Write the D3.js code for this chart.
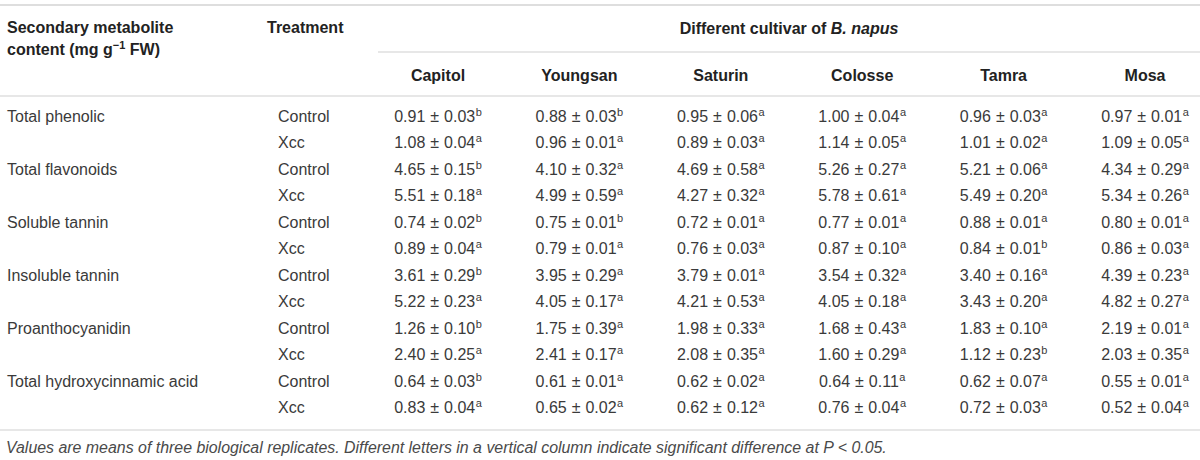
<!DOCTYPE html>
<html>
  <head>
    <meta charset="utf-8" />
    <title>Secondary metabolite content of B. napus cultivars</title>
    <script src="https://d3js.org/d3.v7.min.js"></script>
    <style>
      body { margin: 0; background: #fff; }
      text { font-family: "Liberation Sans", Arial, sans-serif; }
    </style>
  </head>
  <body>
    <svg width="1200" height="460"></svg>
    <script>
      var cultivars = ["Capitol", "Youngsan", "Saturin", "Colosse", "Tamra", "Mosa"];
      var metabolites = [
        "Total phenolic",
        "Total flavonoids",
        "Soluble tannin",
        "Insoluble tannin",
        "Proanthocyanidin",
        "Total hydroxycinnamic acid",
      ];
      var treatments = ["Control", "Xcc"];

      // one row per metabolite x treatment, one column per cultivar
      var means = [
        [0.91, 0.88, 0.95, 1.0, 0.96, 0.97],
        [1.08, 0.96, 0.89, 1.14, 1.01, 1.09],
        [4.65, 4.1, 4.69, 5.26, 5.21, 4.34],
        [5.51, 4.99, 4.27, 5.78, 5.49, 5.34],
        [0.74, 0.75, 0.72, 0.77, 0.88, 0.8],
        [0.89, 0.79, 0.76, 0.87, 0.84, 0.86],
        [3.61, 3.95, 3.79, 3.54, 3.4, 4.39],
        [5.22, 4.05, 4.21, 4.05, 3.43, 4.82],
        [1.26, 1.75, 1.98, 1.68, 1.83, 2.19],
        [2.4, 2.41, 2.08, 1.6, 1.12, 2.03],
        [0.64, 0.61, 0.62, 0.64, 0.62, 0.55],
        [0.83, 0.65, 0.62, 0.76, 0.72, 0.52],
      ];
      var sds = [
        [0.03, 0.03, 0.06, 0.04, 0.03, 0.01],
        [0.04, 0.01, 0.03, 0.05, 0.02, 0.05],
        [0.15, 0.32, 0.58, 0.27, 0.06, 0.29],
        [0.18, 0.59, 0.32, 0.61, 0.2, 0.26],
        [0.02, 0.01, 0.01, 0.01, 0.01, 0.01],
        [0.04, 0.01, 0.03, 0.1, 0.01, 0.03],
        [0.29, 0.29, 0.01, 0.32, 0.16, 0.23],
        [0.23, 0.17, 0.53, 0.18, 0.2, 0.27],
        [0.1, 0.39, 0.33, 0.43, 0.1, 0.01],
        [0.25, 0.17, 0.35, 0.29, 0.23, 0.35],
        [0.03, 0.01, 0.02, 0.11, 0.07, 0.01],
        [0.04, 0.02, 0.12, 0.04, 0.03, 0.04],
      ];
      var letters = [
        ["b", "b", "a", "a", "a", "a"],
        ["a", "a", "a", "a", "a", "a"],
        ["b", "a", "a", "a", "a", "a"],
        ["a", "a", "a", "a", "a", "a"],
        ["b", "b", "a", "a", "a", "a"],
        ["a", "a", "a", "a", "b", "a"],
        ["b", "a", "a", "a", "a", "a"],
        ["a", "a", "a", "a", "a", "a"],
        ["b", "a", "a", "a", "a", "a"],
        ["a", "a", "a", "a", "b", "a"],
        ["b", "a", "a", "a", "a", "a"],
        ["a", "a", "a", "a", "a", "a"],
      ];
      var note =
        "Values are means of three biological replicates. Different letters in a vertical column indicate significant difference at P < 0.05.";

      var svg = d3.select("svg"),
        width = +svg.attr("width");

      var fmt = d3.format(".2f");
      var textColor = "#3a3a3a",
        headColor = "#222",
        ruleColor = "#cfcfcf";

      var rows = [];
      metabolites.forEach(function (m, i) {
        treatments.forEach(function (t, j) {
          rows.push({ metabolite: j === 0 ? m : "", treatment: t, index: i * 2 + j });
        });
      });

      var x = d3.scalePoint().domain(cultivars).range([438, 1145]);
      var y = d3
        .scalePoint()
        .domain(d3.range(rows.length))
        .range([116, 407.5]);

      // rules
      svg.append("line").attr("x1", 0).attr("x2", width).attr("y1", 5).attr("y2", 5)
        .attr("stroke", "#dedede").attr("stroke-width", 2);
      svg.append("line").attr("x1", 378).attr("x2", width).attr("y1", 52).attr("y2", 52)
        .attr("stroke", ruleColor).attr("stroke-width", 1.2);
      svg.append("line").attr("x1", 0).attr("x2", width).attr("y1", 96).attr("y2", 96)
        .attr("stroke", ruleColor).attr("stroke-width", 1.2);
      svg.append("line").attr("x1", 0).attr("x2", width).attr("y1", 430).attr("y2", 430)
        .attr("stroke", ruleColor).attr("stroke-width", 1.2);

      // header
      var head = svg.append("g")
        .attr("font-size", 16)
        .attr("font-weight", "bold")
        .attr("fill", headColor);

      head.append("text").attr("x", 7).attr("y", 27).attr("dy", "0.35em")
        .text("Secondary metabolite");
      var unit = head.append("text").attr("x", 7).attr("y", 49).attr("dy", "0.35em");
      unit.append("tspan").text("content (mg g");
      unit.append("tspan").attr("font-size", 11).attr("dy", -6).text("\u22121");
      unit.append("tspan").attr("dy", 6).text(" FW)");

      head.append("text").attr("x", 267).attr("y", 27).attr("dy", "0.35em")
        .text("Treatment");

      var group = head.append("text").attr("x", 789).attr("y", 28).attr("dy", "0.35em")
        .attr("text-anchor", "middle");
      group.append("tspan").text("Different cultivar of ");
      group.append("tspan").attr("font-style", "italic").text("B. napus");

      head.selectAll(".cultivar")
        .data(cultivars)
        .enter()
        .append("text")
        .attr("class", "cultivar")
        .attr("x", function (d) { return x(d); })
        .attr("y", 75)
        .attr("dy", "0.35em")
        .attr("text-anchor", "middle")
        .text(function (d) { return d; });

      // body
      var body = svg.append("g").attr("font-size", 16).attr("fill", textColor);

      var row = body.selectAll(".row")
        .data(rows)
        .enter()
        .append("g")
        .attr("class", "row")
        .attr("transform", function (d) { return "translate(0," + y(d.index) + ")"; });

      row.append("text").attr("x", 7).attr("dy", "0.35em")
        .text(function (d) { return d.metabolite; });
      row.append("text").attr("x", 278).attr("dy", "0.35em")
        .text(function (d) { return d.treatment; });

      var cell = row.selectAll(".cell")
        .data(function (d) {
          return cultivars.map(function (c, k) {
            return { cultivar: c, mean: means[d.index][k], sd: sds[d.index][k], letter: letters[d.index][k] };
          });
        })
        .enter()
        .append("text")
        .attr("class", "cell")
        .attr("x", function (d) { return x(d.cultivar); })
        .attr("dy", "0.35em")
        .attr("text-anchor", "middle");

      cell.append("tspan").text(function (d) { return fmt(d.mean); });
      cell.append("tspan").attr("dx", 5).text("\u00b1");
      cell.append("tspan").attr("dx", 5).text(function (d) { return fmt(d.sd); });
      cell.append("tspan").attr("font-size", 11).attr("dy", -6).attr("dx", 0.5)
        .text(function (d) { return d.letter; });

      // footnote, sized so it runs to the same end as the original
      var foot = svg.append("text")
        .attr("x", 6)
        .attr("y", 447)
        .attr("dy", "0.35em")
        .attr("font-size", 15)
        .attr("font-style", "italic")
        .attr("fill", "#4a4a4a")
        .text(note);
      var footLen = foot.node().getComputedTextLength();
      if (footLen > 0) foot.attr("font-size", Math.min(16, 15 * 881 / footLen));
    </script>
  </body>
</html>
